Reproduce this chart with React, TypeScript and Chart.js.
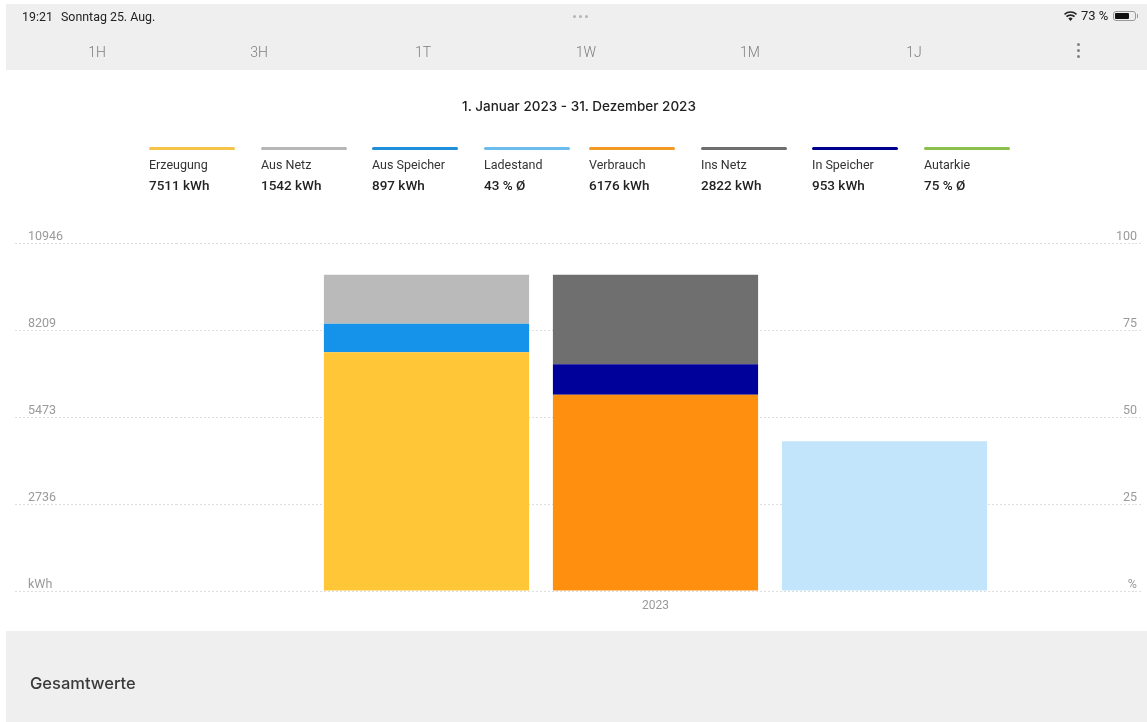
import React, { useEffect, useRef } from "react";
import { Chart, registerables } from "chart.js";

Chart.register(...registerables);

const categories = ["2023"];
const erzeugung = [7511];
const ausSpeicher = [897];
const ausNetz = [1542];
const verbrauch = [6176];
const inSpeicher = [953];
const insNetz = [2822];
const ladestand = [43];

const leftTicks = [0, 2736, 5473, 8209, 10946];
const rightTicks = [0, 25, 50, 75, 100];

const legendNames = ["Erzeugung", "Aus Netz", "Aus Speicher", "Ladestand", "Verbrauch", "Ins Netz", "In Speicher", "Autarkie"];
const legendValues = ["7511 kWh", "1542 kWh", "897 kWh", "43 % Ø", "6176 kWh", "2822 kWh", "953 kWh", "75 % Ø"];
const legendColors = ["#F7C44A", "#B7B7B7", "#1F8FDB", "#6CBDEE", "#F39A26", "#6F6F6F", "#00008F", "#8BBF4E"];
const legendLefts = [149, 261, 372, 484, 589, 701, 812, 924];

const tabs = ["1H", "3H", "1T", "1W", "1M", "1J"];
const tabCenters = [97, 259, 423, 586, 750, 914];

const FONT = "Roboto, sans-serif";
const TITLE_FONT = "Inter, sans-serif";
const GRID = "#DEDEDE";
const TICK = "#9A9A9A";

const abs = (s: React.CSSProperties): React.CSSProperties => ({ position: "absolute", whiteSpace: "nowrap", ...s });

export default function App() {
  const ref = useRef<HTMLCanvasElement>(null);

  useEffect(() => {
    const chart = new Chart(ref.current!, {
      type: "bar",
      data: {
        labels: categories,
        datasets: [
          { label: "Erzeugung", data: erzeugung, stack: "a", backgroundColor: "#FFC637", yAxisID: "y" },
          { label: "Aus Speicher", data: ausSpeicher, stack: "a", backgroundColor: "#1592E9", yAxisID: "y" },
          { label: "Aus Netz", data: ausNetz, stack: "a", backgroundColor: "#BABABA", yAxisID: "y" },
          { label: "Verbrauch", data: verbrauch, stack: "b", backgroundColor: "#FF8F0F", yAxisID: "y" },
          { label: "In Speicher", data: inSpeicher, stack: "b", backgroundColor: "#00009A", yAxisID: "y" },
          { label: "Ins Netz", data: insNetz, stack: "b", backgroundColor: "#6F6F6F", yAxisID: "y" },
          { label: "Ladestand", data: ladestand, stack: "c", backgroundColor: "#C2E5FC", yAxisID: "yRight" },
        ],
      },
      options: {
        animation: false,
        responsive: false,
        layout: { padding: { top: 243, left: 28, right: 0, bottom: 0 } },
        plugins: { legend: { display: false }, tooltip: { enabled: false } },
        datasets: { bar: { barPercentage: 0.896, categoryPercentage: 0.7164 } },
        scales: {
          x: {
            stacked: true,
            afterFit: (s: any) => { s.height = 131; },
            grid: { display: false },
            border: { display: false },
            ticks: { color: TICK, font: { family: FONT, size: 12 }, padding: 0 },
          },
          y: {
            stacked: true,
            position: "left",
            min: 0,
            max: 10946,
            afterBuildTicks: (s: any) => { s.ticks = leftTicks.map((value) => ({ value })); },
            afterFit: (s: any) => { s.width = 148; },
            grid: { color: GRID, tickColor: GRID, tickLength: 161, tickBorderDash: [2, 2], lineWidth: 1 },
            border: { display: false, dash: [2, 2] },
            ticks: {
              color: TICK,
              font: { family: FONT, size: 12.5 },
              crossAlign: "far",
              labelOffset: -6.5,
              padding: 0,
              callback: (v: any) => (v === 0 ? "kWh" : String(v)),
            },
          },
          yRight: {
            stacked: true,
            position: "right",
            min: 0,
            max: 100,
            afterBuildTicks: (s: any) => { s.ticks = rightTicks.map((value) => ({ value })); },
            afterFit: (s: any) => { s.width = 12; },
            grid: { drawOnChartArea: false, color: GRID, tickColor: GRID, tickLength: 8, tickBorderDash: [2, 2] },
            border: { display: false, dash: [2, 2] },
            ticks: {
              color: TICK,
              font: { family: FONT, size: 12.5 },
              mirror: true,
              labelOffset: -6.5,
              padding: 2,
              callback: (v: any) => (v === 0 ? "%" : String(v)),
            },
          },
        },
      },
    } as any);
    return () => chart.destroy();
  }, []);

  return (
    <div style={{ position: "absolute", left: 0, top: 0, width: 1147, height: 722, overflow: "hidden", background: "#fff", fontFamily: FONT }}>
      <div style={abs({ left: 6, top: 4, width: 1141, height: 66, background: "#EFEFEF" })} />
      <div style={abs({ left: 6, top: 631, width: 1141, height: 91, background: "#EFEFEF" })} />
      <canvas ref={ref} width={1147} height={722} style={{ position: "absolute", left: 0, top: 0, display: "block" }} />

      <div style={abs({ left: 22, top: 10, fontSize: 12.4, color: "#222", lineHeight: "14px" })}>19:21</div>
      <div style={abs({ left: 61, top: 10, fontSize: 12.4, color: "#222", lineHeight: "14px" })}>Sonntag 25. Aug.</div>
      {[574, 580, 586].map((x) => (
        <div key={x} style={abs({ left: x - 1.5, top: 15, width: 3, height: 3, borderRadius: 2, background: "#B5B5B5" })} />
      ))}
      <svg style={{ position: "absolute", left: 1064, top: 11 }} width="13" height="10" viewBox="0 0 24 18">
        <path d="M12 18l-4-4.500a6 6 0 0 1 8 0zM5.800 11.500l-2.500-2.700a13.500 13.500 0 0 1 17.400 0l-2.500 2.700a10 10 0 0 0-12.400 0zM1.800 7L0 5a18 18 0 0 1 24 0l-1.800 2a15.500 15.500 0 0 0-20.400 0z" fill="#222" />
      </svg>
      <div style={abs({ left: 1081, top: 9, fontSize: 13, color: "#222", lineHeight: "14px" })}>73 %</div>
      <div style={abs({ left: 1113, top: 11, width: 23, height: 10, border: "1px solid #999", borderRadius: 3, boxSizing: "border-box", padding: 1 })}>
        <div style={{ width: 14, height: "100%", background: "#111", borderRadius: 1 }} />
      </div>
      <div style={abs({ left: 1136.500, top: 14, width: 1.500, height: 4, background: "#999" })} />

      {tabs.map((t, i) => (
        <div key={t} style={abs({ left: tabCenters[i] - 30, width: 60, top: 44, textAlign: "center", fontSize: 14, fontWeight: 300, color: "#7E7E7E", lineHeight: "16px" })}>{t}</div>
      ))}
      {[44, 50, 56].map((y) => (
        <div key={y} style={abs({ left: 1076.500, top: y - 1.500, width: 3, height: 3, borderRadius: 2, background: "#808080" })} />
      ))}

      <div style={abs({ left: 379, width: 400, top: 97, textAlign: "center", fontFamily: TITLE_FONT, fontSize: 13.500, fontWeight: 500, color: "#222", lineHeight: "18px" })}>
        1. Januar 2023 - 31. Dezember 2023
      </div>

      {legendNames.map((name, i) => (
        <React.Fragment key={name}>
          <div style={abs({ left: legendLefts[i], top: 147, width: 86, height: 3, borderRadius: 2, background: legendColors[i] })} />
          <div style={abs({ left: legendLefts[i], top: 157, fontSize: 12.500, color: "#333", lineHeight: "16px" })}>{name}</div>
          <div style={abs({ left: legendLefts[i], top: 177, fontSize: 13.500, fontWeight: 500, color: "#222", lineHeight: "16px" })}>{legendValues[i]}</div>
        </React.Fragment>
      ))}

      <div style={abs({ left: 30, top: 672, fontFamily: TITLE_FONT, fontSize: 16.500, fontWeight: 500, color: "#3A3A3A", lineHeight: "22px" })}>Gesamtwerte</div>
    </div>
  );
}
